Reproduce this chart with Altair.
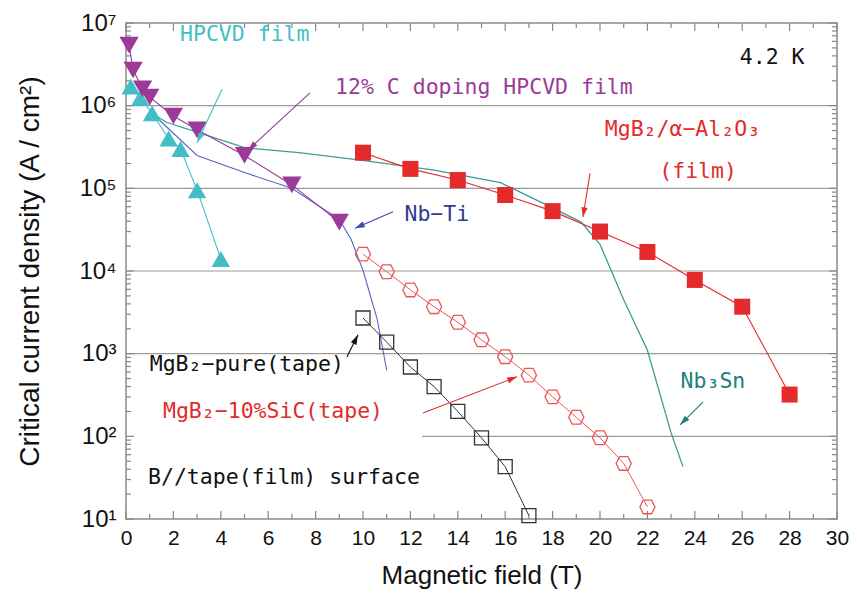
import math
import altair as alt
import pandas as pd

W, H = 711, 496
XMAX = 30
YMIN, YMAX = 1e1, 1e7

# ---------------- data ----------------
c_field = [0.13, 0.3, 0.7, 1.0, 2.0, 3.0, 5.0, 7.0, 9.0]
c_jc = [5.4e6, 2.7e6, 1.6e6, 1.27e6, 7.5e5, 5.1e5, 2.5e5, 1.1e5, 3.9e4]

hp_field = [0.2, 0.6, 1.1, 1.8, 2.3, 3.0, 4.0]
hp_jc = [1.7e6, 1.24e6, 8.1e5, 4.0e5, 3.0e5, 9.5e4, 1.4e4]

film_field = [10, 12, 14, 16, 18, 20, 22, 24, 26, 28]
film_jc = [2.7e5, 1.72e5, 1.26e5, 8.3e4, 5.3e4, 3.0e4, 1.7e4, 7.8e3, 3.7e3, 3.2e2]

pure_field = [10, 11, 12, 13, 14, 15, 16, 17]
pure_jc = [2.7e3, 1.38e3, 6.9e2, 4.0e2, 2.0e2, 96, 43, 11]

sic_field = [10, 11, 12, 13, 14, 15, 16, 17, 18, 19, 20, 21, 22]
sic_jc = [1.6e4, 9.8e3, 5.9e3, 3.7e3, 2.4e3, 1.47e3, 9.2e2, 5.5e2, 3.0e2, 1.7e2, 96, 47, 14]

nbti_field = [1.1, 3.0, 5.0, 7.0, 9.0, 9.5, 10.0, 10.6, 11.0]
nbti_jc = [8.1e5, 2.5e5, 1.55e5, 1.0e5, 4.2e4, 2.4e4, 1.02e4, 2.6e3, 6.3e2]

nb3sn_field = [1.1, 1.7, 3.0, 5.0, 7.3, 9.9, 13.0, 15.8, 18.0, 19.2, 20.0, 21.0, 22.0, 23.0, 23.5]
nb3sn_jc = [8.1e5, 6.3e5, 4.8e5, 3.1e5, 2.7e5, 2.2e5, 1.66e5, 1.17e5, 5.8e4, 3.9e4, 2.1e4, 4.5e3, 1.1e3, 1.1e2, 43]

# annotations (data coordinates)
ann_text = ["HPCVD film", "12% C doping HPCVD film", "MgB₂/α−Al₂O₃", "(film)", "Nb−Ti",
            "MgB₂−pure(tape)", "MgB₂−10%SiC(tape)", "Nb₃Sn", "B//tape(film) surface", "4.2 K"]
ann_x = [2.28, 8.82, 20.2, 22.5, 11.75, 1.0, 1.56, 23.4, 0.93, 25.9]
ann_y = [7.2e6, 1.64e6, 5.1e5, 1.58e5, 4.8e4, 7.3e2, 1.98e2, 4.6e2, 31.5, 3.78e6]
ann_color = ["#44BEC6", "#9B3A98", "#E42A2A", "#E42A2A", "#2E3C8E",
             "#111111", "#E42A2A", "#23807A", "#111111", "#111111"]

arr_x1 = [4.05, 7.76, 19.58, 11.27, 9.32, 12.53, 24.35]
arr_y1 = [1.58e6, 1.43e6, 1.53e5, 5.2e4, 9.1e2, 1.92e2, 2.61e2]
arr_x2 = [3.0, 5.15, 19.28, 9.66, 9.79, 16.5, 23.38]
arr_y2 = [3.55e5, 2.9e5, 4.5e4, 3.3e4, 1.69e3, 5.25e2, 1.38e2]
arr_color = ["#44BEC6", "#9B3A98", "#E42A2A", "#3A4BB0", "#111111", "#E42A2A", "#23807A"]

grid_levels = [1e2, 1e3, 1e4, 1e5, 1e6]
grid_start = [12.5, 0, 0, 0, 0]

x_major = list(range(0, 31, 2))
x_minor = list(range(1, 30, 2))
y_major = [1e1, 1e2, 1e3, 1e4, 1e5, 1e6, 1e7]
y_minor = [m * 10 ** k for k in range(1, 7) for m in range(2, 10)]

# ---------------- helpers ----------------
def px(x):
    return x / XMAX * W


def py(y):
    return (math.log10(YMAX) - math.log10(y)) / (math.log10(YMAX) - math.log10(YMIN)) * H


xscale = alt.Scale(domain=[0, XMAX], nice=False, zero=False)
yscale = alt.Scale(type="log", domain=[YMIN, YMAX], nice=False)

xaxis = alt.Axis(title="Magnetic field (T)", values=x_major, format="d", grid=False, ticks=False,
                 domain=False, labelFont="Liberation Sans", labelFontSize=21, labelColor="#111",
                 labelPadding=8, titleFont="Liberation Sans", titleFontSize=26,
                 titleFontWeight="normal", titleColor="#111", titlePadding=14, labelFlush=False)
yaxis = alt.Axis(title="Critical current density (A / cm²)", values=y_major, grid=False,
                 ticks=False, domain=False, labelFont="Liberation Sans", labelFontSize=24,
                 labelColor="#111", labelPadding=10,
                 labelExpr="'10' + ['⁰','¹','²','³','⁴','⁵','⁶','⁷'][round(log(datum.value)/LN10)]",
                 titleFont="Liberation Sans", titleFontSize=28, titleFontWeight="normal",
                 titleColor="#111", titlePadding=34)


def X(field):
    return alt.X(f"{field}:Q", scale=xscale, axis=xaxis)


def Y(field):
    return alt.Y(f"{field}:Q", scale=yscale, axis=yaxis)


def series(field, jc):
    return pd.DataFrame({"B": field, "J": jc})


layers = []

# gridlines
grid_df = pd.DataFrame({"B": grid_start, "J": grid_levels})
layers.append(alt.Chart(grid_df).mark_rule(color="#9a9a9a", strokeWidth=1.2).encode(
    x=X("B"), x2=alt.value(W), y=Y("J")))

# ticks (inside, mirrored)
xt_major = pd.DataFrame({"B": x_major})
xt_minor = pd.DataFrame({"B": x_minor})
yt_major = pd.DataFrame({"J": y_major})
yt_minor = pd.DataFrame({"J": y_minor})
tick_col = "#888888"
for df, ln in [(xt_major, 8), (xt_minor, 5)]:
    layers.append(alt.Chart(df).mark_rule(color=tick_col, strokeWidth=1.2).encode(
        x=X("B"), y=alt.value(H), y2=alt.value(H - ln)))
    layers.append(alt.Chart(df).mark_rule(color=tick_col, strokeWidth=1.2).encode(
        x=X("B"), y=alt.value(0), y2=alt.value(ln)))
for df, ln in [(yt_major, 8), (yt_minor, 5)]:
    layers.append(alt.Chart(df).mark_rule(color=tick_col, strokeWidth=1.2).encode(
        y=Y("J"), x=alt.value(0), x2=alt.value(ln)))
    layers.append(alt.Chart(df).mark_rule(color=tick_col, strokeWidth=1.2).encode(
        y=Y("J"), x=alt.value(W), x2=alt.value(W - ln)))

# reference lines
layers.append(alt.Chart(series(nb3sn_field, nb3sn_jc)).mark_line(color="#3C9C98", strokeWidth=1.3).encode(
    x=X("B"), y=Y("J")))
layers.append(alt.Chart(series(nbti_field, nbti_jc)).mark_line(color="#5865C8", strokeWidth=1.1).encode(
    x=X("B"), y=Y("J")))

hexagon = "M-1,0L-0.55,-0.9L0.55,-0.9L1,0L0.55,0.9L-0.55,0.9Z"

# HPCVD film (cyan up triangles)
hp = series(hp_field, hp_jc)
layers.append(alt.Chart(hp).mark_line(color="#44BEC6", strokeWidth=1.1).encode(x=X("B"), y=Y("J")))
layers.append(alt.Chart(hp).mark_point(shape="triangle-up", filled=True, size=340, color="#44BEC6",
                                       opacity=1).encode(x=X("B"), y=Y("J")))

# 12% C doping (magenta down triangles)
cd = series(c_field, c_jc)
layers.append(alt.Chart(cd).mark_line(color="#9B3A98", strokeWidth=1.1).encode(x=X("B"), y=Y("J")))
layers.append(alt.Chart(cd).mark_point(shape="triangle-down", filled=True, size=370, color="#9B3A98",
                                       opacity=1).encode(x=X("B"), y=Y("J")))

# MgB2 / Al2O3 film (red filled squares)
fd = series(film_field, film_jc)
layers.append(alt.Chart(fd).mark_line(color="#E42A2A", strokeWidth=1.1).encode(x=X("B"), y=Y("J")))
layers.append(alt.Chart(fd).mark_point(shape="square", filled=True, size=256, color="#E42A2A",
                                       opacity=1).encode(x=X("B"), y=Y("J")))

# MgB2 pure tape (open black squares)
pdx = series(pure_field, pure_jc)
layers.append(alt.Chart(pdx).mark_line(color="#333333", strokeWidth=1.0).encode(x=X("B"), y=Y("J")))
layers.append(alt.Chart(pdx).mark_point(shape="square", filled=False, size=196, color="#333333",
                                        strokeWidth=1.3, opacity=1).encode(x=X("B"), y=Y("J")))

# MgB2 10% SiC tape (open red hexagons)
sd = series(sic_field, sic_jc)
layers.append(alt.Chart(sd).mark_line(color="#EE5555", strokeWidth=1.0).encode(x=X("B"), y=Y("J")))
layers.append(alt.Chart(sd).mark_point(shape=hexagon, filled=False, size=230, color="#EE5555",
                                       strokeWidth=1.3, opacity=1).encode(x=X("B"), y=Y("J")))

# arrows
angles = []
for x1, y1, x2, y2 in zip(arr_x1, arr_y1, arr_x2, arr_y2):
    dx = px(x2) - px(x1)
    dy = py(y2) - py(y1)
    angles.append(math.degrees(math.atan2(dx, -dy)) % 360)
arr = pd.DataFrame({"B": arr_x1, "J": arr_y1, "B2": arr_x2, "J2": arr_y2,
                    "c": arr_color, "ang": angles})
layers.append(alt.Chart(arr).mark_rule(strokeWidth=1.1).encode(
    x=X("B"), y=Y("J"), x2="B2:Q", y2="J2:Q", color=alt.Color("c:N", scale=None)))
arrow_head = "M0,0L0.32,1L-0.32,1Z"
layers.append(alt.Chart(arr).mark_point(shape=arrow_head, filled=True, size=380, opacity=1).encode(
    x=X("B2"), y=Y("J2"), color=alt.Color("c:N", scale=None), angle=alt.Angle("ang:Q", scale=None)))

# annotation text
ann = pd.DataFrame({"B": ann_x, "J": ann_y, "t": ann_text, "c": ann_color})
layers.append(alt.Chart(ann).mark_text(align="left", baseline="middle", font="DejaVu Sans Mono",
                                       fontSize=21.5).encode(
    x=X("B"), y=Y("J"), text="t:N", color=alt.Color("c:N", scale=None)))

chart = alt.layer(*layers).properties(
    width=W, height=H, autosize="none",
    padding={"left": 118, "top": 15, "right": 12, "bottom": 78},
    background="white",
).configure_view(stroke="#8a8a8a", strokeWidth=1.5)

chart.save("out.html", embed_options={"renderer": "svg", "actions": False})
